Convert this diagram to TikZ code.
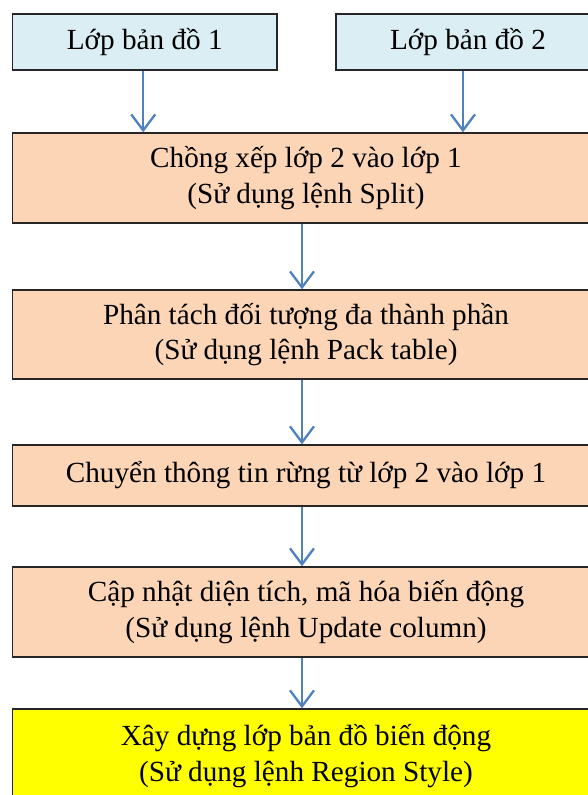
\documentclass[tikz,border=0pt]{standalone}
\usepackage{fontspec}
\setmainfont{Liberation Serif}
\usetikzlibrary{arrows.meta}
\definecolor{lblue}{HTML}{DAEEF3}
\definecolor{peach}{HTML}{FBD5B5}
\definecolor{arrblue}{HTML}{4F81BD}
\definecolor{yel}{HTML}{FFFF00}
\begin{document}
\begin{tikzpicture}[x=1pt,y=-1pt,
  font=\fontsize{29.2}{35.5}\selectfont,
  box/.style={draw=black!85, line width=1.4pt, inner sep=0pt, align=center, anchor=center},
  arr/.style={draw=arrblue, line width=2.3pt, -{Straight Barb[length=16pt,width=24pt,line width=2.3pt]}}]
\useasboundingbox (0,0) rectangle (588,795);
\node[box, fill=lblue, minimum width=264.5pt, minimum height=56pt] (m1) at (144.75,42) {Lớp bản đồ 1};
\node[box, fill=lblue, minimum width=264pt, minimum height=56pt] (m2) at (468,42) {Lớp bản đồ 2};
\node[box, fill=peach, minimum width=587pt, minimum height=90pt] (a) at (306,178) {Chồng xếp lớp 2 vào lớp 1\\(Sử dụng lệnh Split)};
\node[box, fill=peach, minimum width=587pt, minimum height=89pt] (b) at (306,334.5) {Phân tách đối tượng đa thành phần\\(Sử dụng lệnh Pack table)};
\node[box, fill=peach, minimum width=587pt, minimum height=61pt] (c) at (306,475.5) {Chuyển thông tin rừng từ lớp 2 vào lớp 1};
\node[box, fill=peach, minimum width=587pt, minimum height=90pt] (d) at (306,612) {Cập nhật diện tích, mã hóa biến động\\(Sử dụng lệnh Update column)};
\node[box, fill=yel, minimum width=587pt, minimum height=94pt] (e) at (306,756) {Xây dựng lớp bản đồ biến động\\(Sử dụng lệnh Region Style)};
\draw[arr] ([xshift=-1.5pt]m1.south) -- ([xshift=-1.5pt]m1.south |- a.north);
\draw[arr] ([xshift=-5pt]m2.south) -- ([xshift=-5pt]m2.south |- a.north);
\draw[arr] ([xshift=-4pt]a.south) -- ([xshift=-4pt]b.north);
\draw[arr] ([xshift=-4pt]b.south) -- ([xshift=-4pt]c.north);
\draw[arr] ([xshift=-4pt]c.south) -- ([xshift=-4pt]d.north);
\draw[arr] ([xshift=-4pt]d.south) -- ([xshift=-4pt]e.north);
\end{tikzpicture}
\end{document}
